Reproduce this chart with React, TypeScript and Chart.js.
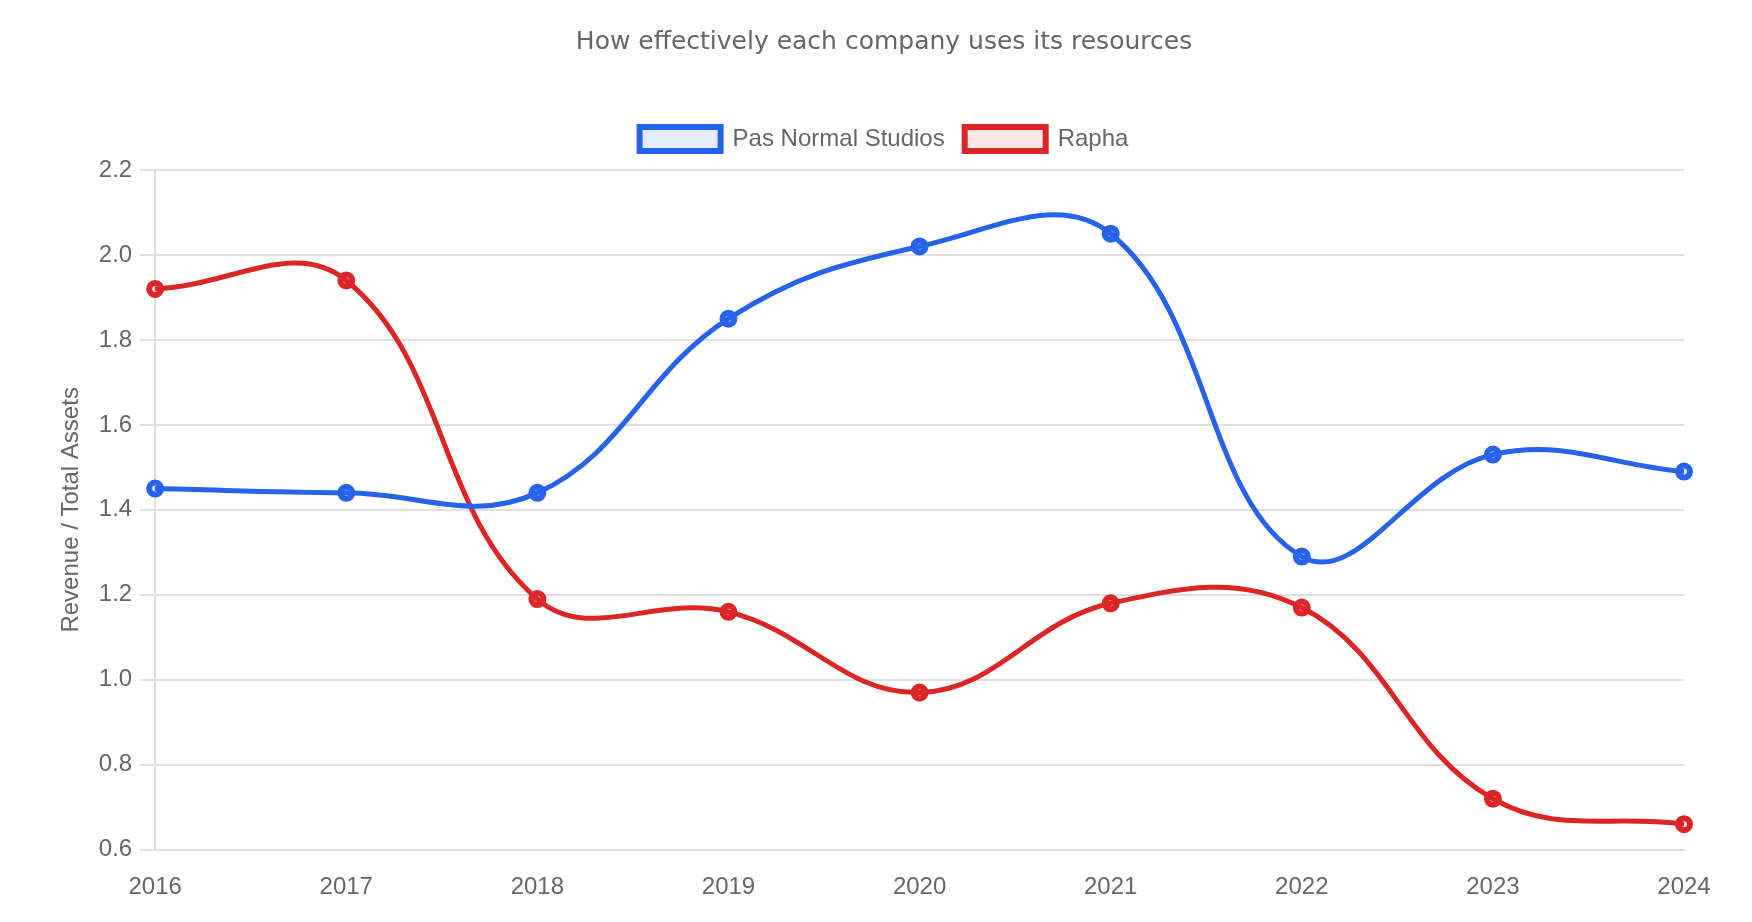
import React, { useEffect, useRef } from "react";
import { Chart, registerables } from "chart.js";

Chart.register(...registerables);

const years = ["2016", "2017", "2018", "2019", "2020", "2021", "2022", "2023", "2024"];
const pasNormalStudios = [1.45, 1.44, 1.44, 1.85, 2.02, 2.05, 1.29, 1.53, 1.49];
const rapha = [1.92, 1.94, 1.19, 1.16, 0.97, 1.18, 1.17, 0.72, 0.66];

const BLUE = "#2563eb";
const RED = "#dc2626";
const BLUE_FILL = "rgba(37,99,235,0.12)";
const RED_FILL = "rgba(220,38,38,0.12)";
const FONT = "'Liberation Sans', Arial, Helvetica, sans-serif";

const legendSpacer = {
  id: "legendSpacer",
  beforeInit(chart: any) {
    const legend = chart.legend;
    if (!legend) return;
    const origFit = legend.fit;
    legend.fit = function () {
      origFit.call(this);
      this.height += 9;
    };
  },
};

export default function App() {
  const ref = useRef<HTMLCanvasElement | null>(null);
  useEffect(() => {
    if (!ref.current) return;
    const chart = new Chart(ref.current, {
      type: "line",
      data: {
        labels: years,
        datasets: [
          {
            label: "Pas Normal Studios",
            data: pasNormalStudios,
            borderColor: BLUE,
            backgroundColor: BLUE_FILL,
            borderWidth: 5,
            pointRadius: 6,
            pointBorderWidth: 6,
            pointBackgroundColor: BLUE_FILL,
            tension: 0.4,
          },
          {
            label: "Rapha",
            data: rapha,
            borderColor: RED,
            backgroundColor: RED_FILL,
            borderWidth: 5,
            pointRadius: 6,
            pointBorderWidth: 6,
            pointBackgroundColor: RED_FILL,
            tension: 0.4,
          },
        ],
      },
      plugins: [legendSpacer],
      options: {
        animation: false,
        responsive: true,
        maintainAspectRatio: false,
        layout: { padding: { left: 76, right: 60, top: 9, bottom: -10.5 } },
        plugins: {
          title: {
            display: true,
            text: "How effectively each company uses its resources",
            color: "#666",
            font: { family: "'DejaVu Sans', Verdana, sans-serif", size: 25, weight: "normal" },
            padding: { top: 10, bottom: 50 },
          },
          legend: {
            labels: {
              color: "#666",
              font: { family: FONT, size: 24 },
              boxWidth: 81,
              boxHeight: 24,
              padding: 20,
              generateLabels: (ch: any) =>
                ch.data.datasets.map((ds: any, i: number) => ({
                  text: ds.label,
                  fillStyle: ds.backgroundColor,
                  strokeStyle: ds.borderColor,
                  lineWidth: 6,
                  fontColor: "#666",
                  hidden: !ch.isDatasetVisible(i),
                  datasetIndex: i,
                })),
            },
          },
          tooltip: { enabled: false },
        },
        scales: {
          x: {
            grid: { display: false, drawTicks: false },
            border: { display: true, color: "#ddd", width: 2 },
            ticks: { color: "#666", font: { family: FONT, size: 24 }, padding: 23 },
          },
          y: {
            min: 0.6,
            max: 2.2,
            grid: { color: "#e0e0e0", lineWidth: 2, tickLength: 15 },
            border: { display: true, color: "#ddd", width: 2 },
            title: {
              display: true,
              text: "Revenue / Total Assets",
              color: "#666",
              font: { family: FONT, size: 24 },
              padding: { top: -27, bottom: 5 },
            },
            ticks: {
              stepSize: 0.2,
              color: "#666",
              font: { family: FONT, size: 24 },
              padding: 8,
              callback: (v: any) => Number(v).toFixed(1),
            },
          },
        },
      },
    });
    return () => chart.destroy();
  }, []);
  return (
    <div style={{ width: 1736, height: 906 }}>
      <canvas ref={ref} />
    </div>
  );
}
